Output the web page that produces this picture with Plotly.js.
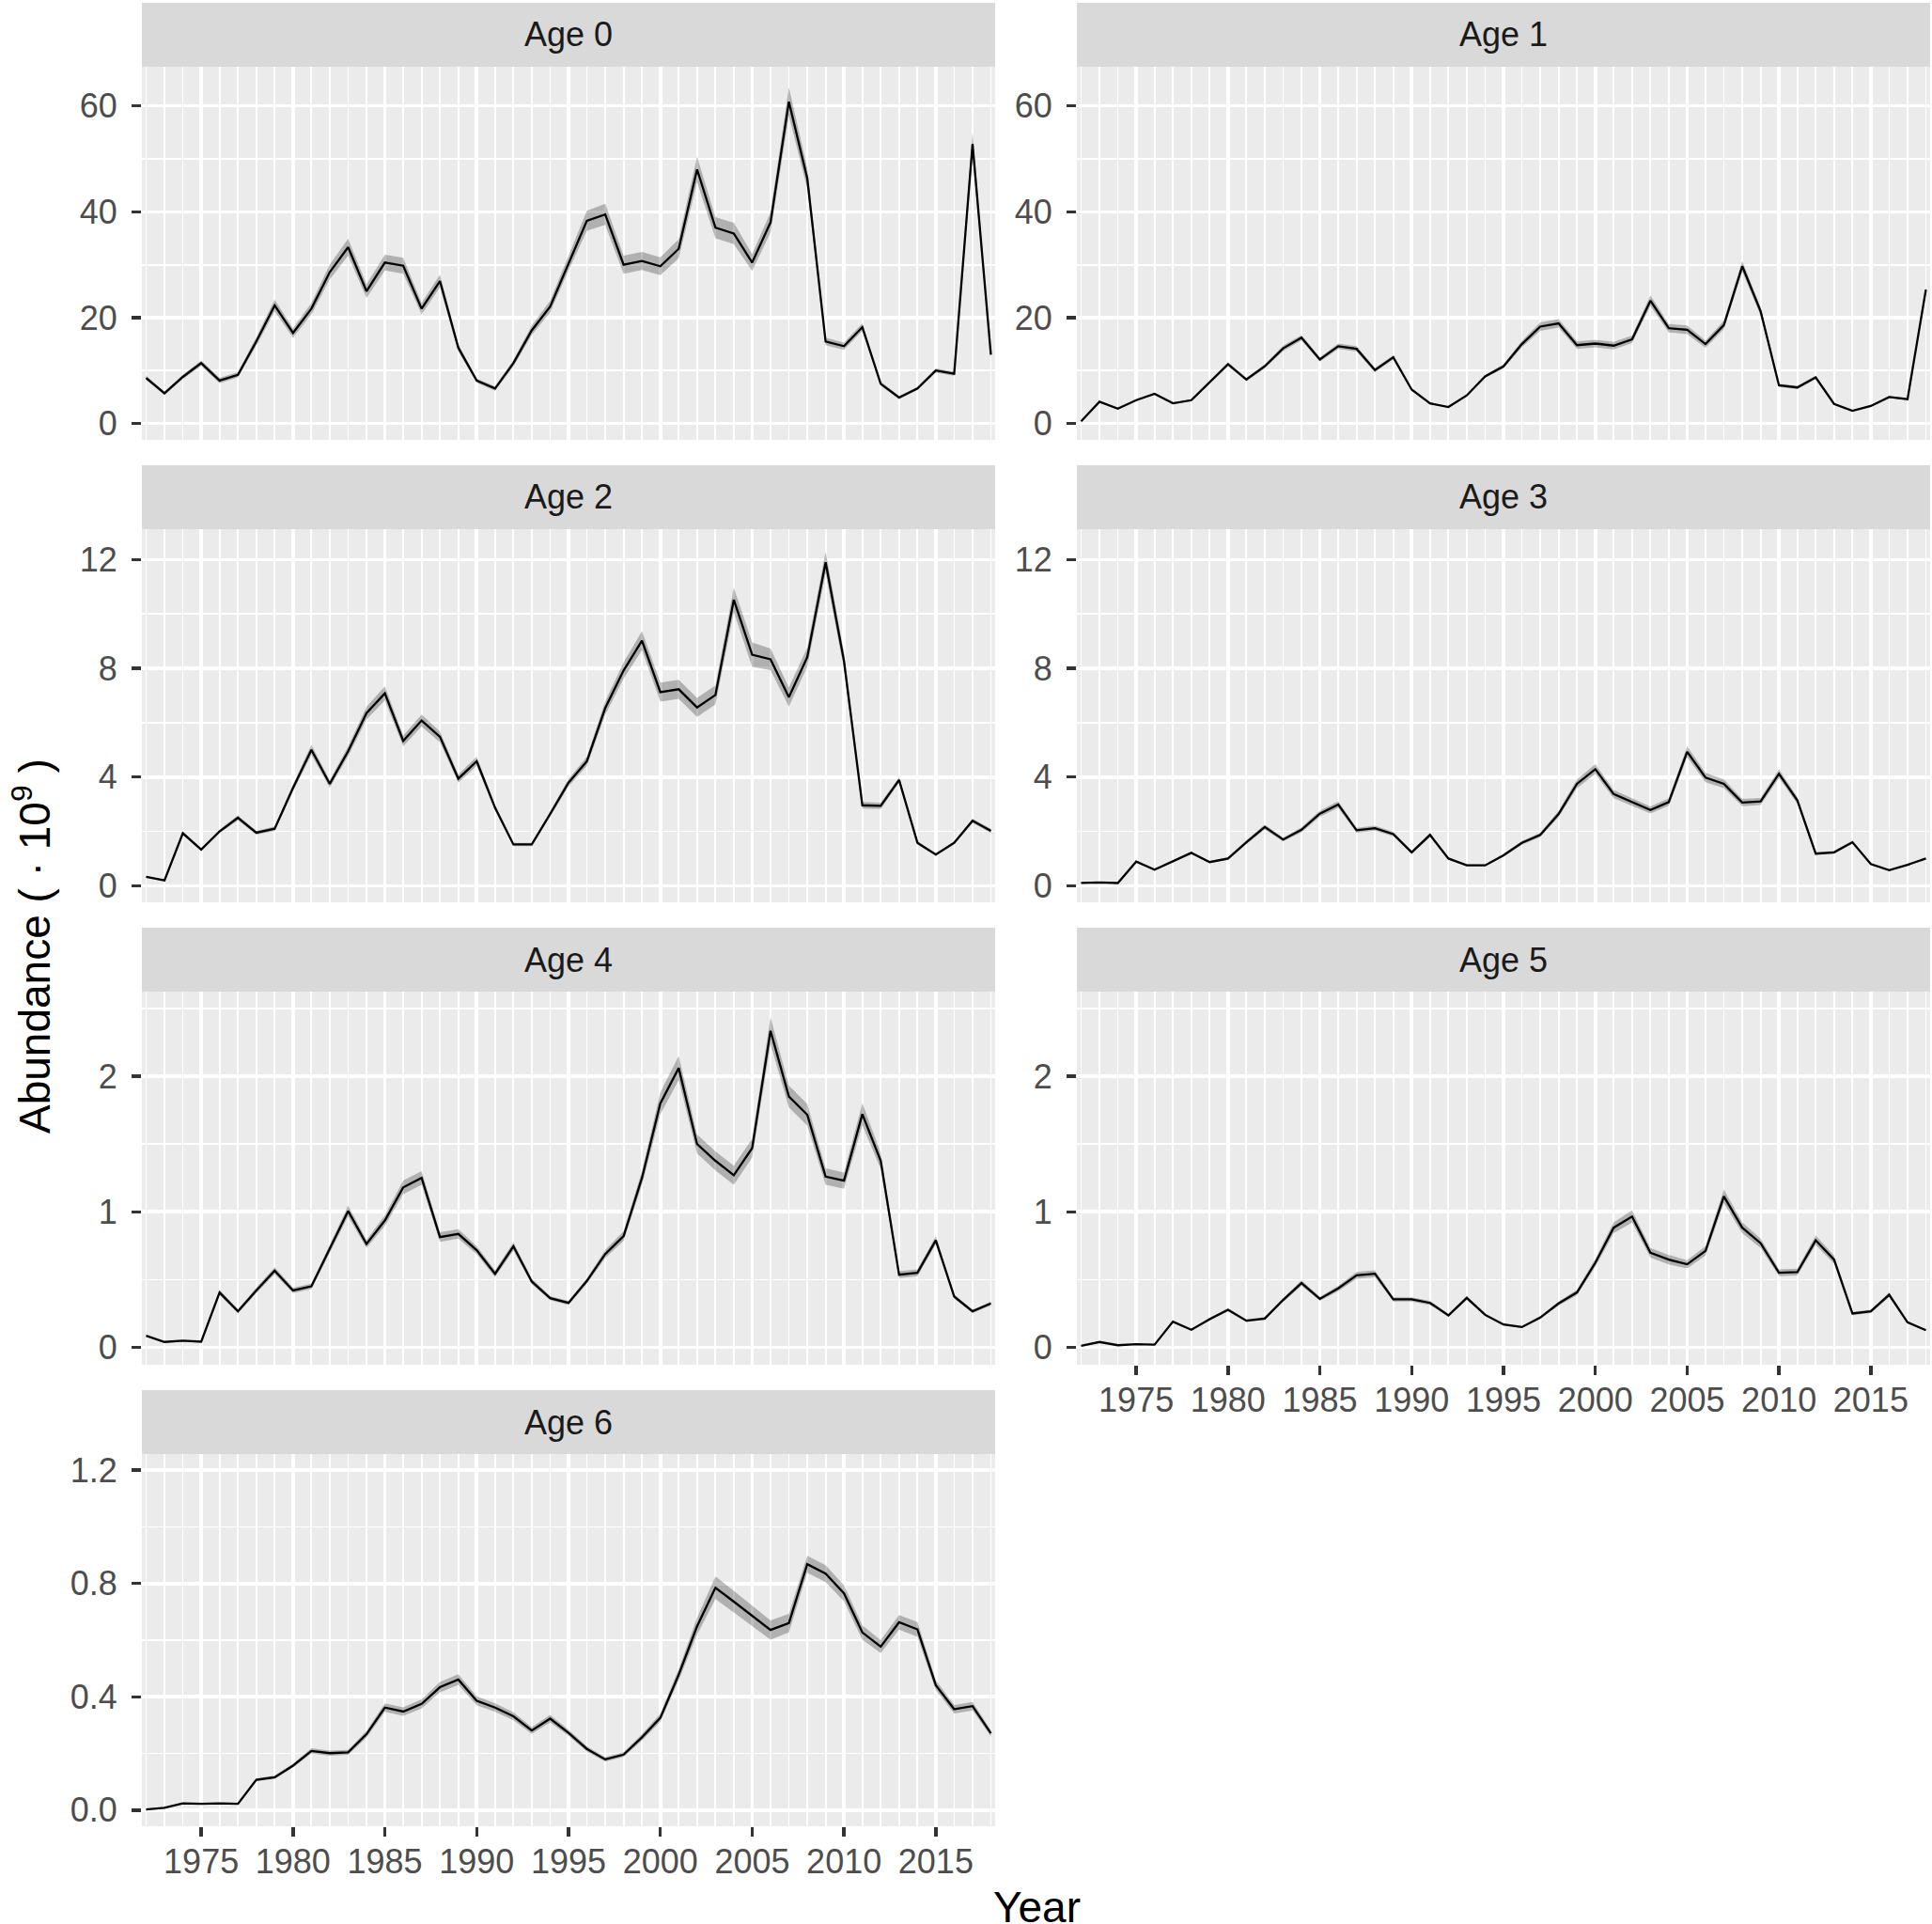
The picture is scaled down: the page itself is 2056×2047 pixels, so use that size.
<!DOCTYPE html>
<html><head><meta charset="utf-8">
<script src="https://cdn.plot.ly/plotly-3.0.1.min.js"></script>
<style>html,body{margin:0;padding:0;background:#fff}#chart{width:2056px;height:2047px}</style>
</head><body><div id="chart"></div>
<script>
const years = [1972,1973,1974,1975,1976,1977,1978,1979,1980,1981,1982,1983,1984,1985,1986,1987,1988,1989,1990,1991,1992,1993,1994,1995,1996,1997,1998,1999,2000,2001,2002,2003,2004,2005,2006,2007,2008,2009,2010,2011,2012,2013,2014,2015,2016,2017,2018];
const panelLabels = ["Age 0","Age 1","Age 2","Age 3","Age 4","Age 5","Age 6"];
const xTickVals = [1975,1980,1985,1990,1995,2000,2005,2010,2015];

// estimated abundance (10^9)
const age0 = [8.6,5.7,8.8,11.4,8.1, 9.2,15.5,22.3,17.1,21.7, 28.6,33.3,25.0,30.4,29.8, 21.7,26.9,14.3,8.1,6.6, 11.4,17.6,22.1,30.3,38.3, 39.5,30.0,30.7,29.7,33.0, 48.0,37.0,35.9,30.4,38.0, 60.8,46.3,15.5,14.6,18.2, 7.5,4.9,6.6,10.0,9.4, 52.8,13.0];
const age1 = [0.4,4.1,2.8,4.4,5.6, 3.8,4.4,7.8,11.2,8.3, 10.8,14.2,16.2,12.1,14.6, 14.1,10.1,12.5,6.4,3.8, 3.1,5.3,8.9,10.8,15.0, 18.3,18.9,14.8,15.1,14.7, 15.9,23.2,18.0,17.7,15.0, 18.6,29.7,21.2,7.2,6.8, 8.7,3.7,2.4,3.3,5.0, 4.6,25.3];
const age2 = [0.33,0.2,1.93,1.33,2.0, 2.5,1.95,2.1,3.6,5.0, 3.75,4.95,6.35,7.08,5.33, 6.08,5.48,3.94,4.58,2.87, 1.52,1.52,2.64,3.79,4.58, 6.54,7.92,9.02,7.12,7.23, 6.56,7.02,10.52,8.5,8.33, 6.94,8.41,11.9,8.27,2.96, 2.94,3.89,1.58,1.15,1.58, 2.39,2.02];
const age3 = [0.1,0.12,0.1,0.89,0.59, 0.89,1.21,0.87,1.0,1.6, 2.16,1.7,2.06,2.65,2.99, 2.04,2.12,1.9,1.23,1.87, 1.0,0.75,0.75,1.12,1.58, 1.87,2.64,3.75,4.29,3.37, 3.08,2.79,3.08,4.93,3.98, 3.75,3.06,3.1,4.12,3.14, 1.18,1.23,1.6,0.8,0.57, 0.77,1.0];
const age4 = [0.086,0.04,0.05,0.042,0.405, 0.266,0.42,0.566,0.42,0.45, 0.728,1.006,0.763,0.936,1.18, 1.25,0.814,0.837,0.717,0.543, 0.745,0.486,0.363,0.328,0.49, 0.689,0.821,1.25,1.8,2.06, 1.5,1.376,1.27,1.47,2.335, 1.85,1.716,1.26,1.23,1.72, 1.376,0.536,0.55,0.79,0.375, 0.266,0.324];
const age5 = [0.012,0.04,0.016,0.023,0.02, 0.19,0.13,0.208,0.277,0.197, 0.213,0.35,0.474,0.358,0.435, 0.532,0.543,0.354,0.354,0.328, 0.236,0.365,0.24,0.169,0.15, 0.22,0.324,0.405,0.624,0.883, 0.965,0.698,0.647,0.613,0.712, 1.114,0.883,0.768,0.55,0.555, 0.79,0.647,0.25,0.266,0.388, 0.185,0.127];
const age6 = [0.002,0.008,0.024,0.022,0.024, 0.022,0.107,0.116,0.157,0.209, 0.201,0.204,0.268,0.362,0.348, 0.375,0.434,0.461,0.386,0.362, 0.331,0.281,0.323,0.273,0.216, 0.179,0.196,0.257,0.326,0.478, 0.649,0.785,0.736,0.685,0.636, 0.66,0.868,0.835,0.765,0.627, 0.577,0.663,0.638,0.441,0.356, 0.367,0.271];

// estimated half-widths of the grey uncertainty band
const band0 = [0.4,0.3,0.4,0.5,0.5, 0.5,0.8,1.1,0.9,1.1, 1.4,1.6,1.3,1.5,1.5, 1.1,1.2,0.7,0.4,0.4, 0.6,0.9,1.1,1.4,1.9, 2.0,1.7,1.7,1.7,1.8, 2.4,2.0,2.0,1.6,1.9, 2.7,2.0,0.7,0.7,0.7, 0.4,0.3,0.3,0.4,0.4, 2.2,0.6];
const band1 = [0.05,0.15,0.1,0.15,0.2, 0.15,0.2,0.3,0.4,0.3, 0.4,0.5,0.5,0.4,0.5, 0.5,0.4,0.4,0.2,0.15, 0.1,0.2,0.3,0.4,0.6, 0.8,0.8,0.7,0.7,0.7, 0.7,1.0,0.8,0.8,0.7, 0.8,1.0,0.8,0.3,0.3, 0.3,0.15,0.1,0.15,0.2, 0.2,0.5];
const band2 = [0.02,0.02,0.06,0.05,0.07, 0.09,0.07,0.08,0.13,0.18, 0.14,0.18,0.23,0.26,0.2, 0.22,0.2,0.15,0.17,0.1, 0.06,0.06,0.1,0.14,0.17, 0.25,0.3,0.35,0.35,0.35, 0.35,0.35,0.45,0.45,0.4, 0.35,0.35,0.4,0.3,0.12, 0.12,0.1,0.06,0.05,0.06, 0.08,0.08];
const band3 = [0.01,0.01,0.01,0.04,0.03, 0.04,0.05,0.04,0.05,0.07, 0.09,0.07,0.09,0.11,0.12, 0.09,0.09,0.08,0.05,0.08, 0.04,0.03,0.03,0.05,0.07, 0.08,0.11,0.16,0.18,0.15, 0.14,0.13,0.14,0.2,0.17, 0.16,0.13,0.13,0.16,0.12, 0.05,0.05,0.06,0.03,0.02, 0.03,0.04];
const band4 = [0.005,0.003,0.003,0.003,0.02, 0.015,0.02,0.025,0.02,0.02, 0.03,0.04,0.03,0.04,0.05, 0.05,0.035,0.035,0.03,0.025, 0.03,0.02,0.015,0.015,0.02, 0.03,0.035,0.05,0.08,0.09, 0.07,0.07,0.07,0.07,0.1, 0.08,0.08,0.06,0.06,0.08, 0.06,0.025,0.025,0.03,0.015, 0.012,0.015];
const band5 = [0.002,0.002,0.002,0.002,0.002, 0.01,0.006,0.01,0.012,0.01, 0.01,0.015,0.02,0.015,0.02, 0.025,0.025,0.015,0.015,0.015, 0.01,0.015,0.01,0.008,0.007, 0.01,0.015,0.02,0.03,0.04, 0.045,0.035,0.035,0.03,0.035, 0.05,0.04,0.035,0.025,0.025, 0.035,0.03,0.012,0.012,0.017, 0.008,0.006];
const band6 = [0.001,0.001,0.002,0.002,0.002, 0.002,0.005,0.006,0.007,0.009, 0.009,0.009,0.012,0.015,0.015, 0.016,0.018,0.019,0.016,0.015, 0.014,0.012,0.013,0.011,0.009, 0.008,0.008,0.011,0.014,0.02, 0.03,0.04,0.038,0.036,0.034, 0.033,0.03,0.03,0.028,0.025, 0.023,0.026,0.026,0.018,0.015, 0.015,0.011];

const series = [age0,age1,age2,age3,age4,age5,age6];
const bands = [band0,band1,band2,band3,band4,band5,band6];

// layout geometry (pixels)
const W = 2056, H = 2047;
const colX = [[151,1059],[1146,2054]];
const rowY = [[71,468],[563,960],[1055,1452],[1547,1943]];
const stripH = 68;
const rowRange = [[-3.1,67.4],[-0.61,13.12],[-0.128,2.624],[-0.057,1.257]];
const rowDtick = [20,4,1,0.4];
const rowFormat = ["","","",".1f"];

const tickFont = {family:"Liberation Sans, Arial, sans-serif", size:36, color:"#4D4D4D"};
const traces = [];
const layout = {
  width:W, height:H, margin:{l:0,r:0,t:0,b:0},
  paper_bgcolor:"#FFFFFF", plot_bgcolor:"#EBEBEB",
  showlegend:false, shapes:[], annotations:[]
};

for (let i = 0; i < 7; i++) {
  const col = i % 2, row = Math.floor(i / 2);
  const n = i === 0 ? "" : String(i + 1);
  const xa = "x" + n, ya = "y" + n;
  const v = series[i], b = bands[i];
  const lo = v.map((d, k) => d - b[k]);
  const hi = v.map((d, k) => d + b[k]);
  traces.push({x:years, y:lo, xaxis:xa, yaxis:ya, type:"scatter", mode:"lines", line:{width:0, color:"rgba(0,0,0,0)"}, hoverinfo:"skip"});
  traces.push({x:years, y:hi, xaxis:xa, yaxis:ya, type:"scatter", mode:"lines", line:{width:0, color:"rgba(0,0,0,0)"}, fill:"tonexty", fillcolor:"rgba(0,0,0,0.25)", hoverinfo:"skip"});
  traces.push({x:years, y:v, xaxis:xa, yaxis:ya, type:"scatter", mode:"lines", line:{width:2.3, color:"#000000"}});

  const showX = (i === 5 || i === 6);
  const [x0, x1] = colX[col];
  const [y0, y1] = rowY[row];
  layout["xaxis" + n] = {
    domain:[x0 / W, x1 / W], anchor:ya, range:[1971.77, 2018.23],
    tickmode:"array", tickvals:xTickVals,
    showgrid:true, gridcolor:"#FFFFFF", gridwidth:3.6,
    minor:{dtick:1, tick0:1972, showgrid:true, gridcolor:"#FFFFFF", gridwidth:1.8},
    zeroline:false, showline:false,
    ticks: showX ? "outside" : "", ticklen:10, tickwidth:3.5, tickcolor:"#333333",
    showticklabels:showX, tickfont:tickFont, ticklabelstandoff:-4, fixedrange:true
  };
  layout["yaxis" + n] = {
    domain:[1 - y1 / H, 1 - y0 / H], anchor:xa, range:rowRange[row],
    tick0:0, dtick:rowDtick[row], tickformat:rowFormat[row],
    showgrid:true, gridcolor:"#FFFFFF", gridwidth:3.6,
    minor:{dtick:rowDtick[row] / 2, tick0:0, showgrid:true, gridcolor:"#FFFFFF", gridwidth:1.8},
    zeroline:false, showline:false,
    ticks:"outside", ticklen:10, tickwidth:3.5, tickcolor:"#333333",
    tickfont:tickFont, ticklabelstandoff:8, fixedrange:true
  };
  layout.shapes.push({type:"rect", xref:"paper", yref:"paper", x0:x0 / W, x1:x1 / W,
    y0:1 - y0 / H, y1:1 - (y0 - stripH) / H, fillcolor:"#D9D9D9", line:{width:0}, layer:"below"});
  layout.annotations.push({xref:"paper", yref:"paper", x:(x0 + x1) / 2 / W, y:1 - (y0 - stripH / 2) / H,
    text:panelLabels[i], showarrow:false, xanchor:"center", yanchor:"middle",
    font:{family:"Liberation Sans, Arial, sans-serif", size:36, color:"#1A1A1A"}});
}
layout.annotations.push({xref:"paper", yref:"paper", x:1103 / W, y:1 - 2029 / H, text:"Year",
  showarrow:false, xanchor:"center", yanchor:"middle",
  font:{family:"Liberation Sans, Arial, sans-serif", size:46, color:"#000000"}});
layout.annotations.push({xref:"paper", yref:"paper", x:34 / W, y:1 - 1007 / H,
  text:"Abundance ( · 10<sup>9</sup> )", textangle:-90,
  showarrow:false, xanchor:"center", yanchor:"middle",
  font:{family:"Liberation Sans, Arial, sans-serif", size:46, color:"#000000"}});

Plotly.newPlot("chart", traces, layout, {staticPlot:true, displayModeBar:false});
</script>
</body></html>
